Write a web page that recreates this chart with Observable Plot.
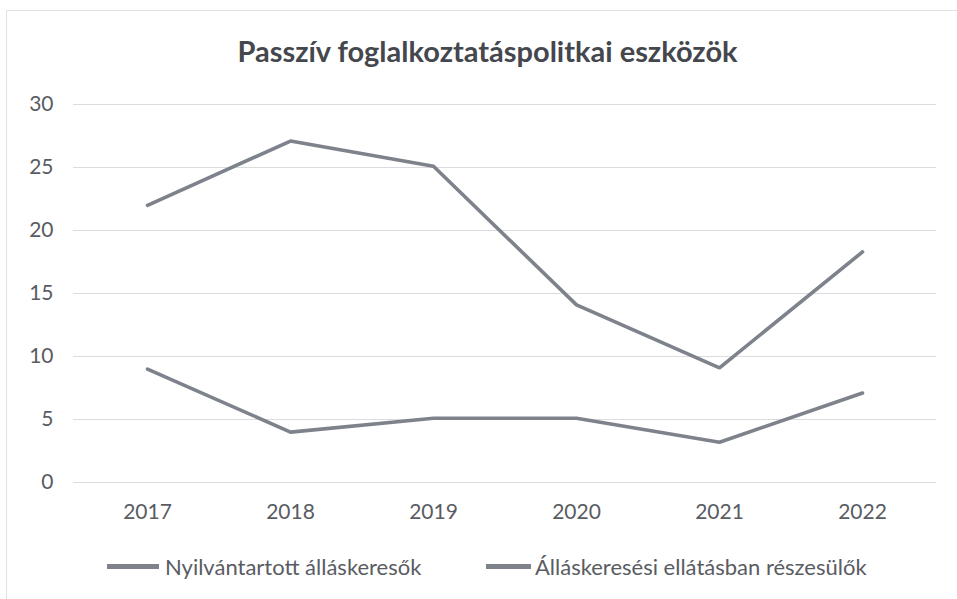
<!DOCTYPE html>
<html>
<head>
<meta charset="utf-8">
<script src="https://cdn.jsdelivr.net/npm/d3@7"></script>
<script src="https://cdn.jsdelivr.net/npm/@observablehq/plot@0.6"></script>
<style>
  html, body { margin: 0; padding: 0; background: #fff; }
  #frame { position: absolute; left: 6px; top: 10px; width: 960px; height: 600px; border: 1px solid #e2e2e2; box-sizing: border-box; }
  #title { position: absolute; left: 0; top: 33px; width: 975px; text-align: center; font-family: Lato, "Open Sans", sans-serif; font-weight: bold; font-size: 29px; color: #44474d; line-height: normal; }
  #chart { position: absolute; left: 0; top: 90px; }
  #legend { position: absolute; left: 0; top: 553px; width: 957px; font-family: Lato, sans-serif; font-size: 22px; color: #595c62; }
  .item { position: absolute; display: flex; align-items: center; height: 26px; }
  .sw { display: inline-block; height: 5px; background: #7d828b; }
</style>
</head>
<body>
<div id="frame"></div>
<div id="title">Passzív foglalkoztatáspolitkai eszközök</div>
<div id="chart"></div>
<div id="legend"></div>
<script>
const years = ["2017", "2018", "2019", "2020", "2021", "2022"];
const seriesNames = ["Nyilvántartott álláskeresők", "Álláskeresési ellátásban részesülők"];
const registered = [22.0, 27.1, 25.1, 14.1, 9.1, 18.3];
const benefit = [9.0, 4.0, 5.1, 5.1, 3.2, 7.1];
const yTicks = [0, 5, 10, 15, 20, 25, 30];

const data = [
  ...years.map((y, i) => ({year: y, value: registered[i], series: seriesNames[0]})),
  ...years.map((y, i) => ({year: y, value: benefit[i], series: seriesNames[1]}))
];

const lineColor = "#7d828b";

const plot = Plot.plot({
  width: 957,
  height: 450,
  marginTop: 14,
  marginBottom: 58,
  marginLeft: 73,
  marginRight: 21,
  style: {fontFamily: "Lato, sans-serif", fontSize: "21px", color: "#595c62", background: "transparent"},
  x: {type: "point", domain: years, padding: 0.5, label: null, tickSize: 0, tickPadding: 22},
  y: {domain: [0, 30], ticks: yTicks, label: null, tickSize: 0, tickPadding: 20},
  marks: [
    Plot.ruleY(yTicks, {stroke: "#dadce0", strokeWidth: 1}),
    Plot.lineY(data, {x: "year", y: "value", z: "series", stroke: lineColor, strokeWidth: 3.6, strokeLinejoin: "miter"})
  ]
});
document.getElementById("chart").appendChild(plot);

const legend = document.getElementById("legend");
const items = [{left: 107, sw: 52, gap: 6}, {left: 486, sw: 45, gap: 4}];
seriesNames.forEach((name, i) => {
  const it = document.createElement("div");
  it.className = "item";
  it.style.left = items[i].left + "px";
  it.innerHTML = `<span class="sw" style="width:${items[i].sw}px;margin-right:${items[i].gap}px"></span><span>${name}</span>`;
  legend.appendChild(it);
});
</script>
</body>
</html>
